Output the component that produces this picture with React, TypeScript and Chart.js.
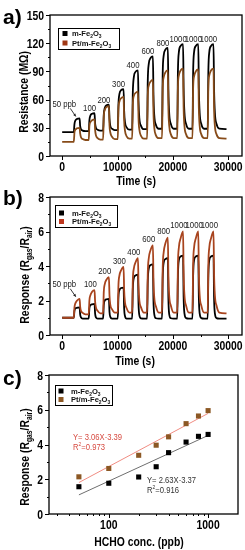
import React, { useEffect, useRef } from 'react';
import { Chart, registerables } from 'chart.js';
Chart.register(...registerables);

const FONT = '"Liberation Sans", Arial, Helvetica, sans-serif';

// ---------- panels a) and b): time series ----------
const timeS = [0, 1900,
  2100, 2220, 2400, 2700, 3150, 3250, 3400, 3700, 4200,
  4800, 4920, 5100, 5400, 5850, 5950, 6100, 6400, 6900,
  7400, 7520, 7700, 8000, 8450, 8550, 8700, 9000, 9500,
  10050, 10170, 10350, 10650, 11100, 11200, 11350, 11650, 12150,
  12650, 12770, 12950, 13250, 13700, 13800, 13950, 14250, 14750,
  15350, 15470, 15650, 15950, 16400, 16500, 16650, 16950, 17450,
  18050, 18170, 18350, 18650, 19100, 19200, 19350, 19650, 20150,
  20800, 20920, 21100, 21400, 21850, 21950, 22100, 22400, 22900,
  23550, 23670, 23850, 24150, 24600, 24700, 24850, 25150, 25650,
  26300, 26420, 26600, 26900, 27350, 27450, 27600, 27900, 28400,
  29700];

// Resistance (MΩ), m-Fe2O3
const resM = [25.5, 25.5,
  25.5, 34, 38, 39.5, 40, 32, 28.5, 27, 26.5,
  26.5, 38, 43, 45, 45.5, 35, 30, 28, 27,
  27, 44, 51, 54, 54.5, 40, 32, 29, 27.5,
  27.5, 55, 66, 70, 71, 48, 36, 30.5, 28,
  28, 68, 84, 89.5, 91, 58, 40, 32, 28.5,
  28.5, 80, 98, 104, 106, 65, 43, 33, 29,
  29, 88, 107, 113, 115, 70, 45, 34, 29,
  29, 90, 111, 117, 119, 72, 46, 34, 29,
  29, 90, 111, 117, 119, 72, 46, 34, 29,
  29, 90, 111, 117, 119, 72, 46, 34, 29,
  28.5];

// Resistance (MΩ), Pt/m-Fe2O3
const resPt = [15, 15,
  15, 25, 28, 29.5, 30, 24, 20, 18, 17,
  17, 32, 36, 38, 39, 28, 22, 19, 17.5,
  17.5, 42, 49, 52, 53, 33, 25, 20.5, 18,
  18, 50, 58, 61.5, 63, 38, 27, 21, 18.5,
  18.5, 55, 64, 67, 68.5, 40, 28, 21.5, 18.5,
  18.5, 64, 75, 79, 81, 46, 30, 22, 19,
  19, 72, 84, 89, 91, 50, 32, 23, 19,
  19, 74, 86, 91, 93, 51, 32, 23, 19,
  19, 73, 85, 90, 92, 51, 32, 23, 19,
  19, 74, 86, 91, 93, 51, 32, 23, 19,
  18.5];

// Response (Rgas/Rair), m-Fe2O3
const respM = [1.0, 1.0,
  1.0, 1.4, 1.55, 1.58, 1.6, 1.2, 1.02, 0.95, 0.95,
  0.95, 1.55, 1.72, 1.78, 1.8, 1.25, 1.02, 0.95, 0.95,
  0.95, 1.75, 2.0, 2.07, 2.1, 1.35, 1.05, 0.95, 0.95,
  0.95, 2.2, 2.6, 2.72, 2.75, 1.55, 1.1, 0.95, 0.95,
  0.95, 2.7, 3.3, 3.45, 3.5, 1.8, 1.15, 0.96, 0.95,
  0.95, 3.1, 3.85, 4.05, 4.1, 2.0, 1.2, 0.97, 0.95,
  0.95, 3.35, 4.2, 4.4, 4.45, 2.1, 1.2, 0.97, 0.95,
  0.95, 3.45, 4.35, 4.55, 4.6, 2.2, 1.25, 0.98, 0.95,
  0.95, 3.45, 4.35, 4.55, 4.6, 2.2, 1.25, 0.98, 0.95,
  0.95, 3.45, 4.35, 4.55, 4.6, 2.2, 1.25, 0.98, 0.95,
  0.95];

// Response (Rgas/Rair), Pt/m-Fe2O3
const respPt = [1.0, 1.0,
  1.0, 1.6, 1.85, 2.0, 2.1, 1.65, 1.4, 1.28, 1.2,
  1.2, 2.0, 2.3, 2.5, 2.6, 1.95, 1.6, 1.4, 1.25,
  1.25, 2.5, 2.95, 3.2, 3.35, 2.3, 1.75, 1.5, 1.3,
  1.3, 2.9, 3.45, 3.75, 3.95, 2.6, 1.9, 1.55, 1.3,
  1.3, 3.2, 3.85, 4.2, 4.45, 2.85, 2.0, 1.6, 1.3,
  1.3, 3.6, 4.45, 4.9, 5.2, 3.2, 2.15, 1.65, 1.3,
  1.3, 3.9, 4.8, 5.3, 5.65, 3.45, 2.25, 1.7, 1.3,
  1.3, 4.1, 5.1, 5.6, 6.0, 3.6, 2.3, 1.7, 1.3,
  1.3, 4.1, 5.1, 5.6, 6.0, 3.6, 2.3, 1.7, 1.3,
  1.3, 4.1, 5.1, 5.6, 6.0, 3.6, 2.3, 1.7, 1.3,
  1.25];

const pulseLabels = ['50 ppb', '100', '200', '300', '400', '600', '800', '1000', '1000', '1000'];

const resTicks = [0, 30, 60, 90, 120, 150];
const resMinor = [15, 45, 75, 105, 135];
const timeTicks = [0, 10000, 20000, 30000];
const timeMinor = [5000, 15000, 25000];
const respTicks = [0, 2, 4, 6, 8];
const respMinor = [1, 3, 5, 7];

// ---------- panel c): response vs concentration ----------
const concPpb = [50, 100, 200, 300, 400, 600, 800, 1000];
const respMc = [1.57, 1.77, 2.13, 2.72, 3.53, 4.14, 4.47, 4.58];
const respPtc = [2.14, 2.62, 3.38, 3.96, 4.44, 5.2, 5.64, 5.95];
const fitConc = [50, 1000];
const fitM = [1.1, 4.52];
const fitPt = [1.81, 5.79];
const concTicks = [100, 1000];
const concMinor = [30, 40, 50, 60, 70, 80, 90, 200, 300, 400, 500, 600, 700, 800, 900];

// ---------- colours ----------
const BLACK = '#000000';
const BROWN_A = 'rgb(135,75,25)';
const BROWN_B = 'rgb(168,68,30)';
const BROWN_C = 'rgb(140,88,36)';

type Seg = { t: string; sub?: boolean; sup?: boolean };
const fe = (prefix: string): Seg[] => [{ t: prefix + 'Fe' }, { t: '2', sub: true }, { t: 'O' }, { t: '3', sub: true }];
const respTitle: Seg[] = [{ t: 'Response (R' }, { t: 'gas', sub: true }, { t: '/R' }, { t: 'air', sub: true }, { t: ')' }];

function drawRich(ctx: CanvasRenderingContext2D, segs: Seg[], x: number, y: number, size: number, bold: boolean,
  color: string, align: 'left' | 'center' | 'right', sx = 1, rot = 0) {
  ctx.save();
  ctx.translate(x, y);
  if (rot) ctx.rotate(rot);
  ctx.scale(sx, 1);
  ctx.fillStyle = color;
  ctx.textBaseline = 'alphabetic';
  ctx.textAlign = 'left';
  const f = (s: number) => `${bold ? 'bold ' : ''}${s}px ${FONT}`;
  let total = 0;
  for (const s of segs) {
    ctx.font = f(s.sub || s.sup ? size * 0.65 : size);
    total += ctx.measureText(s.t).width;
  }
  let cx = align === 'center' ? -total / 2 : align === 'right' ? -total : 0;
  const base = size * 0.36;
  for (const s of segs) {
    const fs = s.sub || s.sup ? size * 0.65 : size;
    ctx.font = f(fs);
    const dy = s.sub ? size * 0.24 : s.sup ? -size * 0.4 : 0;
    ctx.fillText(s.t, cx, base + dy);
    cx += ctx.measureText(s.t).width;
  }
  ctx.restore();
}

type Decor = {
  label: string; labelY: number;
  yTicks: number[]; yMinor: number[]; xTicks: number[]; xMinor: number[];
  yTitle: Seg[]; yTitlePos: [number, number];
  xTitle: Seg[]; xTitlePos: [number, number];
  legend: { box: [number, number, number, number]; sqX: number; textX: number; rows: { y: number; color: string; segs: Seg[] }[] };
  extra?: (chart: any) => void;
};

function decorPlugin(d: Decor) {
  return {
    id: 'decor',
    afterDraw(chart: any) {
      const ctx: CanvasRenderingContext2D = chart.ctx;
      const { left, right, top, bottom } = chart.chartArea;
      const xs = chart.scales.x, ys = chart.scales.y;
      ctx.save();
      ctx.strokeStyle = '#000';
      ctx.lineWidth = 1.3;
      ctx.strokeRect(left, top, right - left, bottom - top);
      ctx.lineWidth = 1;
      ctx.beginPath();
      d.yTicks.forEach(v => { const y = Math.round(ys.getPixelForValue(v)) + 0.5; ctx.moveTo(left, y); ctx.lineTo(left - 4, y); });
      d.yMinor.forEach(v => { const y = Math.round(ys.getPixelForValue(v)) + 0.5; ctx.moveTo(left, y); ctx.lineTo(left - 2, y); });
      d.xTicks.forEach(v => { const x = Math.round(xs.getPixelForValue(v)) + 0.5; ctx.moveTo(x, bottom); ctx.lineTo(x, bottom + 4); });
      d.xMinor.forEach(v => { const x = Math.round(xs.getPixelForValue(v)) + 0.5; ctx.moveTo(x, bottom); ctx.lineTo(x, bottom + 2); });
      ctx.stroke();
      ctx.restore();

      d.yTicks.forEach(v => drawRich(ctx, [{ t: String(v) }], left - 6, ys.getPixelForValue(v), 13, true, '#000', 'right', 0.8));
      d.xTicks.forEach(v => drawRich(ctx, [{ t: String(v) }], xs.getPixelForValue(v), bottom + 10, 13, true, '#000', 'center', 0.8));
      drawRich(ctx, d.yTitle, d.yTitlePos[0], d.yTitlePos[1], 13, true, '#000', 'center', 0.8, -Math.PI / 2);
      drawRich(ctx, d.xTitle, d.xTitlePos[0], d.xTitlePos[1], 13, true, '#000', 'center', 0.8);

      // panel label
      ctx.save();
      ctx.fillStyle = '#000';
      ctx.font = `bold 21px ${FONT}`;
      ctx.textBaseline = 'alphabetic';
      ctx.textAlign = 'left';
      ctx.fillText(d.label, 3, d.labelY);
      ctx.restore();

      // legend
      const lg = d.legend;
      ctx.save();
      ctx.strokeStyle = '#000';
      ctx.lineWidth = 1;
      ctx.strokeRect(lg.box[0] + 0.5, lg.box[1] + 0.5, lg.box[2], lg.box[3]);
      lg.rows.forEach(r => {
        ctx.fillStyle = r.color;
        ctx.fillRect(lg.sqX - 2.5, r.y - 2.5, 5, 5);
      });
      ctx.restore();
      lg.rows.forEach(r => drawRich(ctx, r.segs, lg.textX, r.y, 8, true, '#111', 'left', 0.95));

      if (d.extra) d.extra(chart);
    },
  };
}

function pulseAnnotations(values: number[], offsetS: number, gap: number) {
  return (chart: any) => {
    const ctx: CanvasRenderingContext2D = chart.ctx;
    const xs = chart.scales.x, ys = chart.scales.y;
    pulseLabels.forEach((lab, i) => {
      const on = timeS[2 + 9 * i];
      const peak = values[6 + 9 * i];
      const py = ys.getPixelForValue(peak);
      if (i === 0) {
        const px = xs.getPixelForValue(on);
        const lx = px - 9.5, ly = py - 14.5;
        drawRich(ctx, [{ t: lab }], lx, ly, 8.2, false, '#222', 'center', 0.95);
        const ax0 = lx + 6, ay0 = ly + 4.5, ax1 = px + 2, ay1 = py - 2;
        ctx.save();
        ctx.strokeStyle = '#222';
        ctx.fillStyle = '#222';
        ctx.lineWidth = 0.9;
        ctx.beginPath(); ctx.moveTo(ax0, ay0); ctx.lineTo(ax1, ay1); ctx.stroke();
        const ang = Math.atan2(ay1 - ay0, ax1 - ax0);
        ctx.beginPath();
        ctx.moveTo(ax1, ay1);
        ctx.lineTo(ax1 - 3 * Math.cos(ang - 0.5), ay1 - 3 * Math.sin(ang - 0.5));
        ctx.lineTo(ax1 - 3 * Math.cos(ang + 0.5), ay1 - 3 * Math.sin(ang + 0.5));
        ctx.closePath(); ctx.fill();
        ctx.restore();
      } else {
        const px = xs.getPixelForValue(on + offsetS);
        drawRich(ctx, [{ t: lab }], px, py - gap, 8.2, false, '#222', 'center', 0.95);
      }
    });
  };
}

const pts = (xs: number[], ys: number[]) => xs.map((x, i) => ({ x, y: ys[i] }));

function baseOptions(top: number, bottom: number, leftW: number, rightPad: number, x: any, y: any) {
  return {
    responsive: false,
    animation: false as const,
    devicePixelRatio: 1,
    events: [],
    layout: { padding: { top, right: rightPad, bottom: 550 - bottom - 20, left: 0 } },
    plugins: { legend: { display: false }, tooltip: { enabled: false }, title: { display: false } },
    scales: {
      x: { ...x, ticks: { display: false }, grid: { display: false }, border: { display: false }, afterFit: (s: any) => { s.height = 20; } },
      y: { ...y, ticks: { display: false }, grid: { display: false }, border: { display: false }, afterFit: (s: any) => { s.width = leftW; } },
    },
  };
}

function lineDs(label: string, ys: number[], color: string, order: number) {
  return {
    label, data: pts(timeS, ys), borderColor: color, borderWidth: 1.8, pointRadius: 0,
    cubicInterpolationMode: 'monotone' as const, fill: false, order,
  };
}

export default function App() {
  const aRef = useRef<HTMLCanvasElement>(null);
  const bRef = useRef<HTMLCanvasElement>(null);
  const cRef = useRef<HTMLCanvasElement>(null);

  useEffect(() => {
    const chartA = new Chart(aRef.current!, {
      type: 'line',
      data: { datasets: [lineDs('m-Fe2O3', resM, BLACK, 1), lineDs('Pt/m-Fe2O3', resPt, BROWN_A, 0)] },
      options: baseOptions(15, 156, 50, 3,
        { type: 'linear', min: -2200, max: 32500 }, { type: 'linear', min: 0, max: 150 }) as any,
      plugins: [decorPlugin({
        label: 'a)', labelY: 24,
        yTicks: resTicks, yMinor: resMinor, xTicks: timeTicks, xMinor: timeMinor,
        yTitle: [{ t: 'Resistance (MΩ)' }], yTitlePos: [23, 92],
        xTitle: [{ t: 'Time (s)' }], xTitlePos: [136, 180],
        legend: { box: [58, 28, 61, 21], sqX: 65, textX: 72, rows: [
          { y: 33.5, color: BLACK, segs: fe('m-') },
          { y: 43, color: 'rgb(160,55,20)', segs: fe('Pt/m-') }] },
        extra: pulseAnnotations(resM, 150, 5),
      })],
    });

    const chartB = new Chart(bRef.current!, {
      type: 'line',
      data: { datasets: [lineDs('m-Fe2O3', respM, BLACK, 1), lineDs('Pt/m-Fe2O3', respPt, BROWN_B, 0)] },
      options: baseOptions(197, 335, 50, 3,
        { type: 'linear', min: -2200, max: 32500 }, { type: 'linear', min: 0, max: 8 }) as any,
      plugins: [decorPlugin({
        label: 'b)', labelY: 205,
        yTicks: respTicks, yMinor: respMinor, xTicks: timeTicks, xMinor: timeMinor,
        yTitle: respTitle, yTitlePos: [24, 275],
        xTitle: [{ t: 'Time (s)' }], xTitlePos: [135, 360],
        legend: { box: [55, 205, 62, 22], sqX: 61.5, textX: 72, rows: [
          { y: 213, color: BLACK, segs: fe('m-') },
          { y: 221.5, color: 'rgb(190,55,30)', segs: fe('Pt/m-') }] },
        extra: pulseAnnotations(respPt, 300, 6),
      })],
    });

    const chartC = new Chart(cRef.current!, {
      type: 'scatter',
      data: {
        datasets: [
          { label: 'fitPt', data: pts(fitConc, fitPt), showLine: true, borderColor: 'rgb(240,140,130)', borderWidth: 1, pointRadius: 0, order: 1 },
          { label: 'fitM', data: pts(fitConc, fitM), showLine: true, borderColor: 'rgb(110,110,110)', borderWidth: 1, pointRadius: 0, order: 1 },
          { label: 'Pt/m-Fe2O3', data: pts(concPpb, respPtc), pointStyle: 'rect', pointRadius: 3.6, backgroundColor: BROWN_C, borderWidth: 0, order: 0 },
          { label: 'm-Fe2O3', data: pts(concPpb, respMc), pointStyle: 'rect', pointRadius: 3.6, backgroundColor: BLACK, borderWidth: 0, order: 0 },
        ],
      },
      options: baseOptions(375, 514, 49, 7,
        { type: 'logarithmic', min: 25, max: 2000 }, { type: 'linear', min: 0, max: 8 }) as any,
      plugins: [decorPlugin({
        label: 'c)', labelY: 385,
        yTicks: respTicks, yMinor: respMinor, xTicks: concTicks, xMinor: concMinor,
        yTitle: respTitle, yTitlePos: [24, 457],
        xTitle: [{ t: 'HCHO conc. (ppb)' }], xTitlePos: [139, 541],
        legend: { box: [55, 385, 57, 20], sqX: 61, textX: 71, rows: [
          { y: 391, color: BLACK, segs: fe('m-') },
          { y: 399.5, color: BROWN_C, segs: fe('Pt/m-') }] },
        extra: (chart: any) => {
          const ctx = chart.ctx;
          drawRich(ctx, [{ t: 'Y= 3.06X-3.39' }], 73, 437, 9, false, 'rgb(215,75,65)', 'left', 0.85);
          drawRich(ctx, [{ t: 'R' }, { t: '2', sup: true }, { t: '=0.973' }], 73, 446.5, 9, false, 'rgb(215,75,65)', 'left', 0.85);
          drawRich(ctx, [{ t: 'Y= 2.63X-3.37' }], 147, 480, 9, false, '#333', 'left', 0.85);
          drawRich(ctx, [{ t: 'R' }, { t: '2', sup: true }, { t: '=0.916' }], 147, 489.5, 9, false, '#333', 'left', 0.85);
        },
      })],
    });

    return () => { chartA.destroy(); chartB.destroy(); chartC.destroy(); };
  }, []);

  const cs: React.CSSProperties = { position: 'absolute', left: 0, top: 0, display: 'block' };
  return (
    <div style={{ position: 'absolute', left: 0, top: 0, width: 245, height: 550, background: '#fff' }}>
      <canvas ref={aRef} width={245} height={550} style={cs} />
      <canvas ref={bRef} width={245} height={550} style={cs} />
      <canvas ref={cRef} width={245} height={550} style={cs} />
    </div>
  );
}
